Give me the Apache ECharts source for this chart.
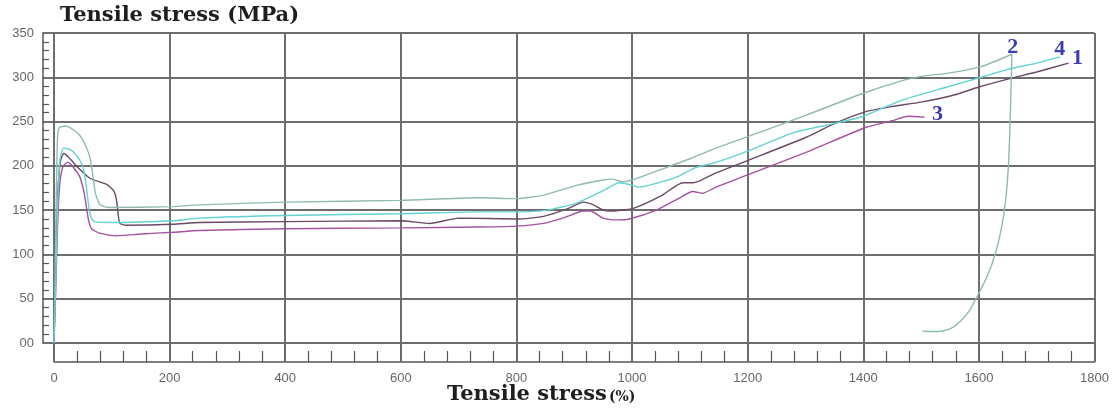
<!DOCTYPE html>
<html>
<head>
<meta charset="utf-8">
<style>
  html, body { margin: 0; padding: 0; background: #fff; }
  #chart { width: 1112px; height: 408px; }
</style>
<script src="https://cdn.jsdelivr.net/npm/echarts@6/dist/echarts.min.js"></script>
</head>
<body>
<div id="chart"></div>
<script>
// Stress–strain curves of four specimens: [strain %, stress MPa]
const curve1 = [
  [0,0],[2,60],[4,120],[7,175],[11,205],[17,214],[25,210],[40,199],[62,186],[91,179],
  [103,172],[108,162],[111,145],[114,135],[125,133],[205,134],[251,136],[400,137],
  [600,138],[650,135],[700,141],[801,140],[847,143],[890,152],[916,159],[933,156],
  [950,150],[962,149],[1002,152],[1050,166],[1088,181],[1105,181],[1120,184],[1145,192],
  [1200,206],[1300,232],[1351,248],[1403,261],[1450,267],[1500,272],[1557,280],
  [1600,289],[1650,298],[1700,306],[1755,316]
];
const curve2 = [
  [0,0],[2,80],[4,170],[6,230],[9,243],[20,245],[33,241],[45,234],[53,225],[62,210],
  [67,190],[72,168],[80,156],[95,153],[205,154],[251,156],[400,159],[600,161],[732,164],
  [801,163],[847,167],[904,178],[950,184],[965,185],[985,182],[1000,184],[1050,196],
  [1100,208],[1145,220],[1200,233],[1300,257],[1400,282],[1466,296],[1500,301],
  [1550,305],[1604,312],[1657,326],
  // unloading branch
  [1656,300],[1654,250],[1651,200],[1646,160],[1639,130],[1628,100],[1614,75],
  [1599,55],[1583,36],[1567,24],[1550,16],[1530,13],[1510,13],[1502,14]
];
const curve3 = [
  [0,0],[3,60],[6,130],[10,180],[16,200],[24,204],[35,197],[45,187],[52,170],[56,154],
  [60,138],[65,129],[79,124],[108,121],[150,123],[205,125],[251,127],[400,129],[600,130],
  [732,131],[801,132],[847,135],[880,141],[916,149],[928,149],[950,141],[973,139],
  [995,140],[1042,150],[1080,163],[1105,171],[1122,169],[1145,176],[1201,190],[1300,215],
  [1403,243],[1450,251],[1477,256],[1506,255]
];
const curve4 = [
  [0,0],[3,70],[6,150],[10,205],[16,220],[25,219],[33,216],[42,209],[50,199],[56,176],
  [60,155],[64,142],[70,137],[100,136],[205,138],[251,141],[400,144],[600,146],[732,148],
  [801,148],[853,150],[904,158],[950,172],[978,181],[995,179],[1012,176],[1040,180],
  [1076,187],[1110,198],[1145,204],[1201,217],[1282,238],[1351,248],[1400,256],
  [1466,274],[1545,289],[1604,300],[1650,309],[1700,316],[1740,323]
];

// curve tag points (where the number sits) and tag text
const tagPoints = [curve1[curve1.length - 1], [1657, 326], curve3[curve3.length - 1], curve4[curve4.length - 1]];
const tagTexts = ['1', '2', '3', '4'];

const xTicks = { min: 0, max: 1800, step: 200 };
const yTicks = { min: 0, max: 350, step: 50 };

const lineColors = ['#6a4a66', '#8fbab2', '#a552a0', '#62d2d4'];
const tagPlacement = [
  { position: 'right', distance: 3, offset: [0, -5] },
  { position: 'top', distance: -5, offset: [1, 0] },
  { position: 'right', distance: 7, offset: [0, -3] },
  { position: 'top', distance: -4, offset: [0, 0] }
];

const chart = echarts.init(document.getElementById('chart'), null, { renderer: 'canvas' });

const curves = [curve1, curve2, curve3, curve4];
const series = curves.map((data, i) => ({
  type: 'line',
  data: data,
  showSymbol: false,
  smooth: 0.2,
  smoothMonotone: 'none',
  lineStyle: { color: lineColors[i], width: 1.4 },
  z: 5,
  markPoint: {
    symbol: 'circle',
    symbolSize: 1,
    itemStyle: { color: 'rgba(0,0,0,0)' },
    silent: true,
    label: {
      show: true,
      formatter: tagTexts[i],
      position: tagPlacement[i].position,
      distance: tagPlacement[i].distance,
      offset: tagPlacement[i].offset,
      color: '#3b3db5',
      fontFamily: 'Liberation Serif',
      fontWeight: 'bold',
      fontSize: 22
    },
    data: [{ coord: tagPoints[i] }]
  }
}));

chart.setOption({
  animation: false,
  backgroundColor: '#ffffff',
  title: [
    {
      text: 'Tensile stress (MPa)',
      left: 55, top: 0,
      textStyle: { fontFamily: 'DejaVu Serif', fontWeight: 'bold', fontSize: 21, color: '#1e1e1e' }
    },
    {
      text: '{a|Tensile stress}{b|(%)}',
      left: 442, top: 379,
      textStyle: {
        rich: {
          a: { fontFamily: 'DejaVu Serif', fontWeight: 'bold', fontSize: 21, color: '#1e1e1e' },
          b: { fontFamily: 'DejaVu Serif', fontWeight: 'bold', fontSize: 14, color: '#1e1e1e', padding: [5, 0, 0, 2] }
        }
      }
    }
  ],
  grid: { left: 54, right: 11, top: 33, bottom: 65, containLabel: false },
  xAxis: {
    type: 'value',
    min: xTicks.min, max: xTicks.max, interval: xTicks.step,
    position: 'bottom',
    offset: 19,
    axisLine: { show: true, onZero: false, lineStyle: { color: '#555', width: 1.5 } },
    axisTick: { show: true, inside: true, length: 19, lineStyle: { color: '#6a6a6a', width: 2 } },
    minorTick: { show: true, splitNumber: 5, length: 11, lineStyle: { color: '#555', width: 1.2 } },
    axisLabel: {
      color: '#666', fontFamily: 'Liberation Sans', fontSize: 13, margin: 10,
      formatter: v => String(v)
    },
    splitLine: { show: true, lineStyle: { color: '#6e6e6e', width: 2 } }
  },
  yAxis: {
    type: 'value',
    min: yTicks.min, max: yTicks.max, interval: yTicks.step,
    position: 'left',
    offset: 11,
    axisLine: { show: true, onZero: false, lineStyle: { color: '#555', width: 1.5 } },
    axisTick: { show: true, inside: true, length: 11, lineStyle: { color: '#444', width: 1.5 } },
    minorTick: { show: true, splitNumber: 5, length: 6, lineStyle: { color: '#555', width: 1.2 } },
    axisLabel: {
      color: '#666', fontFamily: 'Liberation Sans', fontSize: 13, margin: 9,
      formatter: v => (v === 0 ? '00' : String(v))
    },
    splitLine: { show: true, lineStyle: { color: '#3c3c3c', width: 1.5 } }
  },
  series: series
});
</script>
</body>
</html>
